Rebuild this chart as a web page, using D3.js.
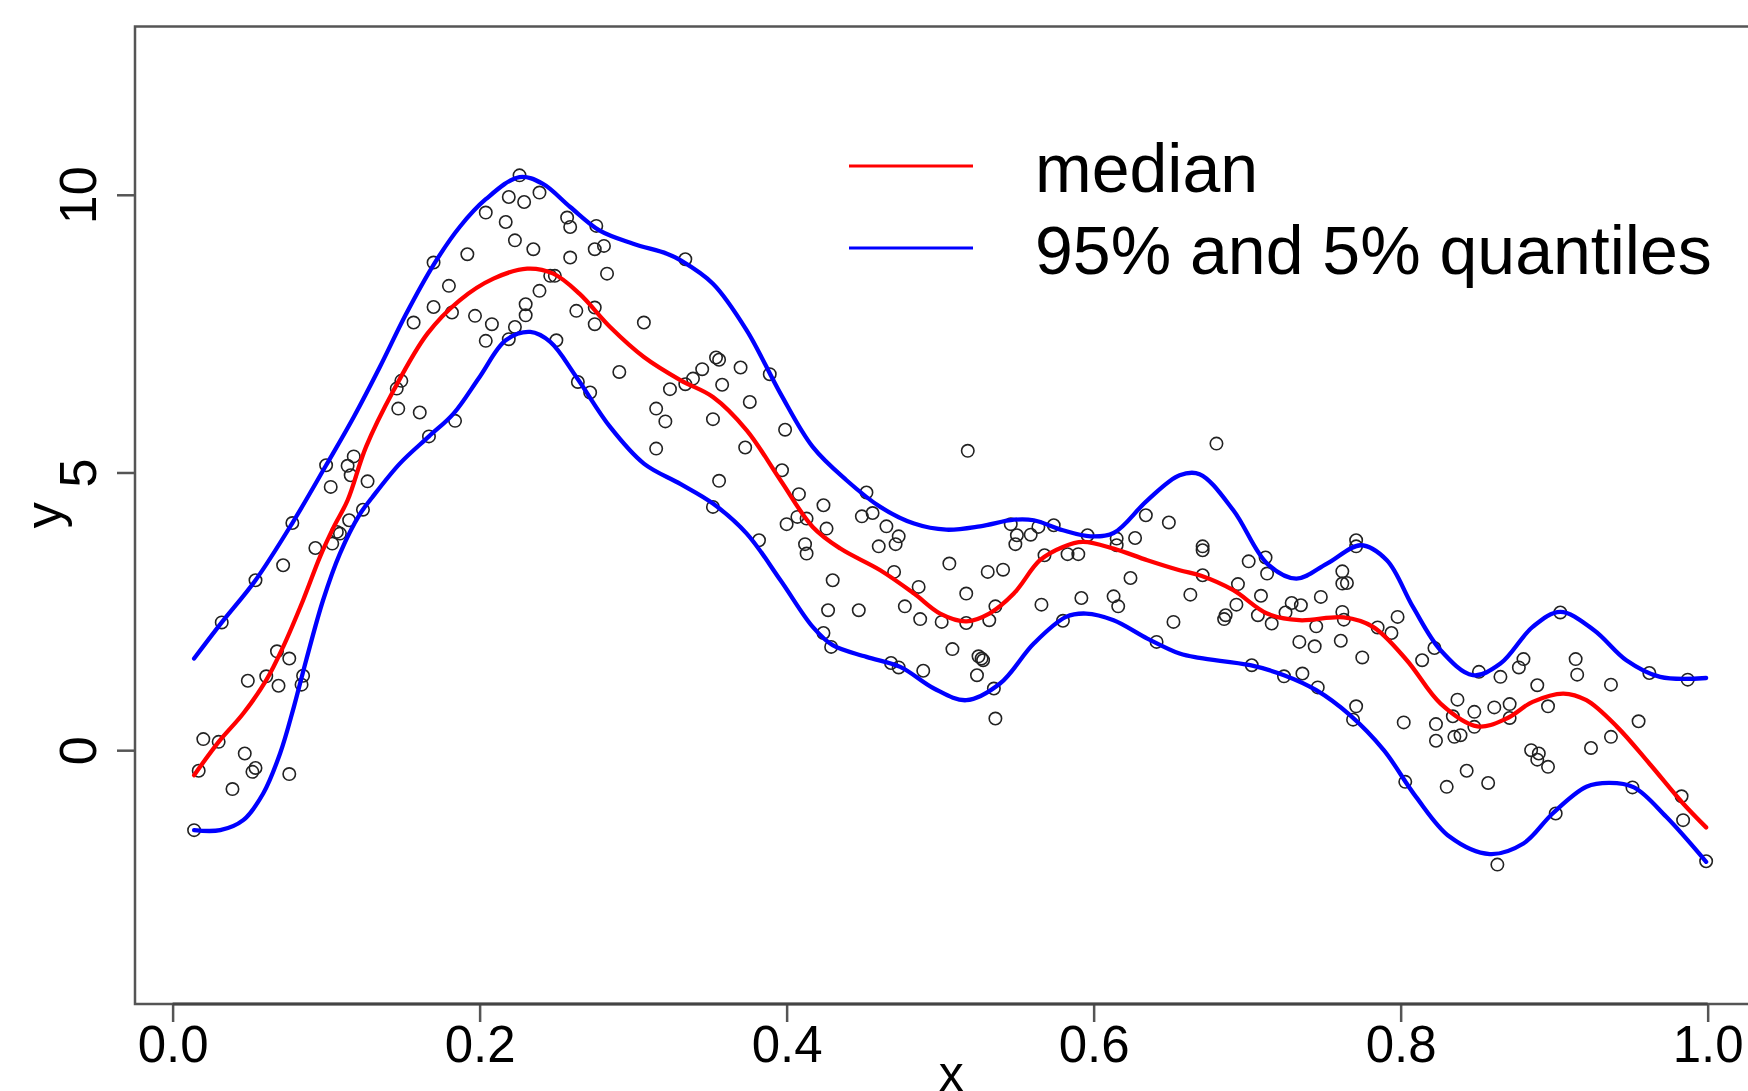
<!DOCTYPE html>
<html>
<head>
<meta charset="utf-8">
<script src="https://cdn.jsdelivr.net/npm/d3@7"></script>
<style>
  body { margin: 0; background: #fff; }
  text { font-family: "Liberation Sans", Arial, sans-serif; fill: #000; }
</style>
</head>
<body>
<svg id="chart" width="1748" height="1091"></svg>
<script>
  // observations (x, y)
  const points = [
    [0.226,10.35],[0.219,9.96],[0.229,9.87],[0.239,10.04],[0.204,9.68],[0.217,9.51],[0.257,9.59],[0.259,9.42],
    [0.276,9.44],[0.223,9.18],[0.235,9.02],[0.259,8.87],[0.275,9.02],[0.281,9.08],[0.192,8.93],[0.170,8.78],
    [0.283,8.58],[0.246,8.54],[0.249,8.54],[0.180,8.36],[0.239,8.27],[0.170,7.98],[0.182,7.88],[0.197,7.82],
    [0.208,7.67],[0.230,8.03],[0.230,7.83],[0.223,7.62],[0.219,7.40],[0.204,7.37],[0.250,7.38],[0.263,7.91],
    [0.275,7.97],[0.275,7.67],[0.307,7.70],[0.157,7.70],[0.291,6.81],[0.324,6.50],[0.264,6.63],[0.272,6.44],
    [0.315,6.15],[0.321,5.92],[0.315,5.43],[0.149,6.65],[0.146,6.51],[0.147,6.15],[0.161,6.08],[0.184,5.93],
    [0.167,5.65],[0.100,5.13],[0.118,5.29],[0.114,5.12],[0.116,4.95],[0.127,4.84],[0.103,4.74],
    [0.078,4.09],[0.124,4.33],[0.115,4.14],[0.107,3.93],[0.109,3.90],[0.104,3.72],[0.093,3.64],[0.072,3.33],
    [0.054,3.06],[0.032,2.30],[0.068,1.78],[0.076,1.65],[0.049,1.25],[0.061,1.33],[0.069,1.16],[0.085,1.34],
    [0.084,1.18],[0.020,0.20],[0.030,0.15],[0.047,-0.06],[0.054,-0.32],[0.052,-0.39],[0.017,-0.37],[0.076,-0.43],
    [0.039,-0.70],[0.014,-1.44],
    [0.334,8.84],[0.354,7.07],[0.356,7.03],[0.345,6.86],[0.339,6.69],[0.334,6.59],[0.358,6.58],[0.370,6.89],
    [0.389,6.77],[0.376,6.27],[0.352,5.96],[0.399,5.77],[0.373,5.45],[0.397,5.04],[0.356,4.85],[0.408,4.61],
    [0.424,4.41],[0.352,4.38],[0.400,4.07],[0.407,4.20],[0.413,4.17],[0.426,3.99],[0.382,3.78],[0.412,3.71],
    [0.413,3.54],[0.452,4.64],[0.456,4.27],[0.449,4.21],[0.465,4.03],[0.473,3.85],[0.471,3.71],[0.460,3.67],
    [0.430,3.06],[0.470,3.21],[0.486,2.94],[0.506,3.36],[0.517,2.82],[0.427,2.52],[0.447,2.52],[0.477,2.59],
    [0.487,2.36],[0.501,2.31],[0.517,2.29],[0.532,2.34],[0.536,2.59],[0.531,3.21],[0.541,3.25],[0.518,5.39],
    [0.424,2.11],[0.429,1.86],[0.468,1.57],[0.473,1.49],[0.489,1.43],[0.508,1.82],[0.525,1.69],[0.527,1.65],
    [0.528,1.62],[0.524,1.35],[0.535,1.11],[0.536,0.57],[0.546,4.07],[0.550,3.87],[0.549,3.71],[0.559,3.88],
    [0.564,4.02],[0.574,4.05],[0.568,3.51],[0.583,3.53],[0.590,3.53],[0.596,3.87],[0.566,2.62],[0.580,2.33],
    [0.592,2.74],[0.613,2.77],[0.616,2.59],[0.624,3.10],[0.615,3.81],[0.615,3.69],[0.627,3.82],[0.634,4.23],
    [0.649,4.10],[0.652,2.31],[0.641,1.95],[0.663,2.80],
    [0.680,5.52],[0.671,3.67],[0.671,3.60],[0.671,3.15],[0.701,3.40],[0.712,3.47],[0.713,3.18],[0.694,2.99],
    [0.709,2.78],[0.693,2.62],[0.686,2.43],[0.685,2.36],[0.707,2.43],[0.716,2.28],[0.725,2.48],[0.729,2.65],
    [0.735,2.61],[0.748,2.76],[0.745,2.23],[0.734,1.95],[0.744,1.87],[0.762,3.22],[0.762,3.00],[0.765,3.01],
    [0.762,2.49],[0.763,2.35],[0.761,1.97],[0.771,3.78],[0.771,3.67],[0.785,2.21],[0.794,2.11],[0.798,2.40],
    [0.775,1.67],[0.703,1.53],[0.724,1.33],[0.736,1.38],[0.746,1.13],[0.771,0.79],[0.769,0.55],[0.802,0.50],
    [0.814,1.62],[0.822,1.84],[0.803,-0.57],[0.851,1.41],[0.865,1.32],[0.877,1.49],[0.880,1.64],[0.889,1.17],
    [0.914,1.64],[0.915,1.36],[0.937,1.18],[0.962,1.39],[0.987,1.27],[0.904,2.48],[0.837,0.91],[0.848,0.69],
    [0.834,0.61],[0.823,0.47],[0.823,0.17],[0.835,0.24],[0.839,0.27],[0.848,0.42],[0.861,0.77],[0.871,0.83],
    [0.871,0.58],[0.896,0.79],[0.955,0.52],[0.937,0.24],[0.924,0.04],[0.885,0.00],[0.890,-0.06],[0.889,-0.17],
    [0.896,-0.30],[0.843,-0.37],[0.857,-0.59],[0.830,-0.66],[0.901,-1.14],[0.951,-0.67],[0.983,-0.83],[0.984,-1.26],
    [0.999,-2.00],[0.863,-2.06]
  ]

  // fitted quantile curves (x, y)
  const median_curve = [
    [0.014,-0.45],[0.030,0.15],[0.046,0.66],[0.061,1.26],[0.072,1.86],[0.085,2.70],[0.096,3.48],[0.105,4.02],
    [0.114,4.50],[0.126,5.46],[0.144,6.48],[0.166,7.50],[0.187,8.10],[0.209,8.49],[0.231,8.67],[0.248,8.58],
    [0.265,8.22],[0.285,7.62],[0.307,7.08],[0.331,6.66],[0.352,6.36],[0.374,5.76],[0.396,4.86],[0.417,4.02],
    [0.435,3.63],[0.461,3.24],[0.483,2.82],[0.500,2.46],[0.517,2.32],[0.532,2.46],[0.548,2.82],[0.565,3.42],
    [0.580,3.66],[0.593,3.75],[0.613,3.63],[0.635,3.42],[0.656,3.24],[0.670,3.14],[0.691,2.88],[0.713,2.46],
    [0.734,2.34],[0.763,2.39],[0.782,2.22],[0.804,1.62],[0.826,0.84],[0.850,0.43],[0.869,0.57],[0.886,0.87],
    [0.906,1.02],[0.921,0.90],[0.941,0.42],[0.962,-0.24],[0.984,-0.96],[0.999,-1.39]
  ]
  const upper_curve = [
    [0.014,1.65],[0.032,2.30],[0.054,3.06],[0.078,4.09],[0.100,5.13],[0.118,6.00],[0.135,6.90],[0.152,7.85],
    [0.170,8.74],[0.187,9.42],[0.204,9.92],[0.226,10.32],[0.241,10.20],[0.259,9.78],[0.278,9.36],[0.300,9.12],
    [0.322,8.94],[0.331,8.82],[0.352,8.40],[0.374,7.56],[0.396,6.42],[0.417,5.46],[0.439,4.86],[0.461,4.38],
    [0.483,4.08],[0.504,3.97],[0.526,4.03],[0.548,4.15],[0.561,4.14],[0.580,3.96],[0.598,3.85],[0.613,3.91],
    [0.635,4.50],[0.656,4.95],[0.669,4.97],[0.691,4.32],[0.713,3.36],[0.732,3.09],[0.752,3.36],[0.774,3.69],
    [0.791,3.42],[0.808,2.58],[0.826,1.80],[0.847,1.35],[0.865,1.56],[0.886,2.22],[0.904,2.49],[0.926,2.16],
    [0.947,1.62],[0.969,1.32],[0.999,1.30]
  ]
  const lower_curve = [
    [0.014,-1.44],[0.031,-1.44],[0.046,-1.26],[0.059,-0.78],[0.070,-0.06],[0.079,0.78],[0.087,1.62],[0.098,2.70],
    [0.109,3.54],[0.122,4.25],[0.130,4.55],[0.148,5.16],[0.167,5.65],[0.183,6.06],[0.200,6.72],[0.217,7.38],
    [0.233,7.53],[0.246,7.35],[0.263,6.72],[0.285,5.82],[0.307,5.16],[0.331,4.79],[0.352,4.44],[0.374,3.90],
    [0.396,3.06],[0.417,2.22],[0.430,1.89],[0.452,1.68],[0.474,1.50],[0.496,1.11],[0.517,0.90],[0.539,1.20],
    [0.561,1.92],[0.582,2.40],[0.595,2.46],[0.613,2.34],[0.635,2.01],[0.656,1.74],[0.669,1.66],[0.702,1.53],
    [0.724,1.35],[0.745,1.08],[0.767,0.63],[0.789,0.00],[0.810,-0.84],[0.832,-1.56],[0.858,-1.87],[0.880,-1.68],
    [0.899,-1.14],[0.921,-0.66],[0.936,-0.59],[0.952,-0.67],[0.973,-1.20],[0.999,-2.01]
  ]

  const x_ticks = [0, 0.2, 0.4, 0.6, 0.8, 1.0]
  const y_ticks = [0, 5, 10]
  const legend_labels = ["median", "95% and 5% quantiles"]
  const legend_colors = ["#ff0000", "#0000ff"]

  function make_scales() {
    return {
      x: d3.scaleLinear().domain([-0.0245, 1.038]).range([135, 1766]),
      y: d3.scaleLinear().domain([-4.57, 13.03]).range([1004, 26.5])
    }
  }

  function draw_frame(svg, scales) {
    let [x0, x1] = scales.x.range()
    let [y0, y1] = scales.y.range()
    svg.append("rect")
      .attr("x", x0).attr("y", y1)
      .attr("width", x1 - x0).attr("height", y0 - y1)
      .attr("fill", "none")
      .attr("stroke", "#555")
      .attr("stroke-width", 2.5)
  }

  function draw_points(svg, scales) {
    svg.append("g")
      .selectAll("circle")
      .data(points).enter()
      .append("circle")
      .attr("cx", d => scales.x(d[0]))
      .attr("cy", d => scales.y(d[1]))
      .attr("r", 6.2)
      .attr("fill", "none")
      .attr("stroke", "#222")
      .attr("stroke-width", 1.6)
  }

  function draw_lines(svg, scales) {
    let path_generator = d3.line()
      .x(d => scales.x(d[0]))
      .y(d => scales.y(d[1]))
      .curve(d3.curveCatmullRom.alpha(0.5))

    let curves = [
      {data: upper_curve, color: "#0000ff"},
      {data: lower_curve, color: "#0000ff"},
      {data: median_curve, color: "#ff0000"}
    ]
    svg.append("g")
      .selectAll("path")
      .data(curves).enter()
      .append("path")
      .attr("d", d => path_generator(d.data))
      .attr("fill", "none")
      .attr("stroke", d => d.color)
      .attr("stroke-width", 4.3)
      .attr("stroke-linejoin", "round")
      .attr("stroke-linecap", "round")
  }

  function draw_axes(svg, scales) {
    let y_base = scales.y.range()[0]
    let x_left = scales.x.range()[0]

    let x_axis = d3.axisBottom(scales.x)
      .tickValues(x_ticks)
      .tickFormat(d3.format(".1f"))
      .tickSize(18)
      .tickSizeOuter(0)
    let gx = svg.append("g")
      .attr("transform", `translate(0, ${y_base})`)
      .call(x_axis)
    gx.select(".domain").remove()
    gx.selectAll(".tick line").attr("stroke", "#555").attr("stroke-width", 2.5)
    gx.selectAll(".tick text")
      .attr("y", 58).attr("dy", 0)
      .style("font-size", "51px")
      .attr("fill", "#000")
    // R-style axis line between the outer ticks
    gx.append("line")
      .attr("x1", scales.x(x_ticks[0])).attr("x2", scales.x(x_ticks[x_ticks.length - 1]))
      .attr("stroke", "#444").attr("stroke-width", 3)

    let y_axis = d3.axisLeft(scales.y)
      .tickValues(y_ticks)
      .tickSize(18)
      .tickSizeOuter(0)
    let gy = svg.append("g")
      .attr("transform", `translate(${x_left}, 0)`)
      .call(y_axis)
    gy.select(".domain").remove()
    gy.selectAll(".tick line").attr("stroke", "#555").attr("stroke-width", 2.5)
    gy.selectAll(".tick text")
      .attr("transform", "rotate(-90)")
      .attr("x", 0).attr("y", -39).attr("dy", 0)
      .attr("text-anchor", "middle")
      .style("font-size", "52px")
      .attr("fill", "#000")

    let [t, b] = [scales.y.range()[1], scales.y.range()[0]]
    svg.append("text")
      .attr("transform", `translate(61, ${(t + b) / 2}) rotate(-90)`)
      .attr("text-anchor", "middle")
      .style("font-size", "52px")
      .text("y")

    svg.append("text")
      .attr("x", scales.x(0.5) + 11)
      .attr("y", 1091)
      .attr("text-anchor", "middle")
      .style("font-size", "50px")
      .text("x")
  }

  function draw_legend(svg) {
    let g = svg.append("g").attr("transform", "translate(849, 166)")
    let rows = g.selectAll("g")
      .data(legend_labels).enter()
      .append("g")
      .attr("transform", (d, i) => `translate(0, ${i * 82})`)
    rows.append("line")
      .attr("x1", 0).attr("x2", 124)
      .attr("stroke", (d, i) => legend_colors[i])
      .attr("stroke-width", 3)
    rows.append("text")
      .attr("x", 186)
      .attr("y", 26)
      .style("font-size", "68px")
      .text(d => d)
  }

  function visualize() {
    let svg = d3.select("#chart")
    svg.append("rect").attr("width", 1748).attr("height", 1091).attr("fill", "#fff")
    let scales = make_scales()
    draw_frame(svg, scales)
    draw_points(svg, scales)
    draw_lines(svg, scales)
    draw_axes(svg, scales)
    draw_legend(svg)
  }

  visualize()
</script>
</body>
</html>
